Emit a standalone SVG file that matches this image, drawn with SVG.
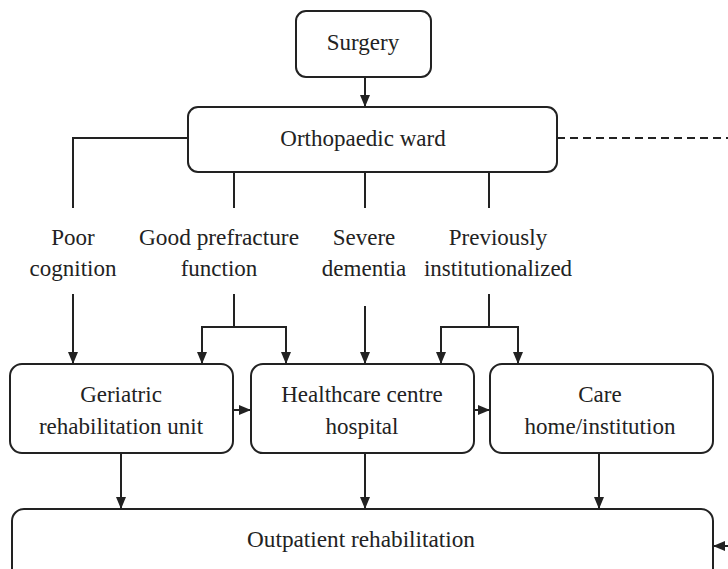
<svg xmlns="http://www.w3.org/2000/svg" width="728" height="569" viewBox="0 0 728 569">
<defs>
<style>
.box{fill:#fff;stroke:#222;stroke-width:2}
.t{font-family:"Liberation Serif","Times New Roman",serif;font-size:23px;fill:#222;text-anchor:middle}
.c{fill:none;stroke:#222;stroke-width:2}
.a{marker-end:url(#ah)}
.d{stroke-dasharray:8 5}
</style>
<marker id="ah" markerUnits="userSpaceOnUse" markerWidth="12" markerHeight="12" refX="12" refY="5" orient="auto">
<path d="M0,0 L12,5 L0,10 z" fill="#222"/>
</marker>
</defs>
<rect width="728" height="569" fill="#fff"/>
<g id="connectors">
<path class="c a" d="M365,77 V107"/>
<path class="c" d="M188,138 H73 V208"/>
<path class="c d" d="M557,138 H728"/>
<path class="c" d="M234,172 V208"/>
<path class="c" d="M365,172 V208"/>
<path class="c" d="M489,172 V208"/>
<path class="c a" d="M73,294 V364"/>
<path class="c" d="M234,294 V327"/>
<path class="c" d="M202,327 H286"/>
<path class="c a" d="M202,326 V364"/>
<path class="c a" d="M286,326 V364"/>
<path class="c a" d="M365,306 V364"/>
<path class="c" d="M489,294 V327"/>
<path class="c" d="M441,327 H518"/>
<path class="c a" d="M441,326 V364"/>
<path class="c a" d="M518,326 V364"/>
<path class="c a" d="M233,410 H251"/>
<path class="c a" d="M474,410 H490"/>
<path class="c a" d="M121,453 V509"/>
<path class="c a" d="M365,453 V509"/>
<path class="c a" d="M599,453 V509"/>
<path class="c a" d="M728,546 H713"/>
</g>
<g id="surgery">
<rect class="box" x="296" y="11" width="135" height="66" rx="10"/>
<text class="t" x="363" y="50">Surgery</text>
</g>
<g id="ward">
<rect class="box" x="188" y="107" width="369" height="65" rx="10"/>
<text class="t" x="363" y="146">Orthopaedic ward</text>
</g>
<g id="poor">
<text class="t" x="73" y="245">Poor</text>
<text class="t" x="73" y="276">cognition</text>
</g>
<g id="good">
<text class="t" x="219" y="245" textLength="160" lengthAdjust="spacingAndGlyphs">Good prefracture</text>
<text class="t" x="219" y="276">function</text>
</g>
<g id="severe">
<text class="t" x="364" y="245">Severe</text>
<text class="t" x="364" y="276">dementia</text>
</g>
<g id="previously">
<text class="t" x="498" y="245">Previously</text>
<text class="t" x="498" y="276">institutionalized</text>
</g>
<g id="geriatric">
<rect class="box" x="10" y="364" width="223" height="89" rx="12"/>
<text class="t" x="121" y="402">Geriatric</text>
<text class="t" x="121" y="434">rehabilitation unit</text>
</g>
<g id="healthcare">
<rect class="box" x="251" y="364" width="223" height="89" rx="12"/>
<text class="t" x="362" y="402">Healthcare centre</text>
<text class="t" x="362" y="434">hospital</text>
</g>
<g id="care">
<rect class="box" x="490" y="364" width="223" height="89" rx="12"/>
<text class="t" x="600" y="402">Care</text>
<text class="t" x="600" y="434">home/institution</text>
</g>
<g id="outpatient">
<rect class="box" x="12" y="509" width="701" height="80" rx="12"/>
<text class="t" x="361" y="547" textLength="228" lengthAdjust="spacingAndGlyphs">Outpatient rehabilitation</text>
</g>
</svg>
